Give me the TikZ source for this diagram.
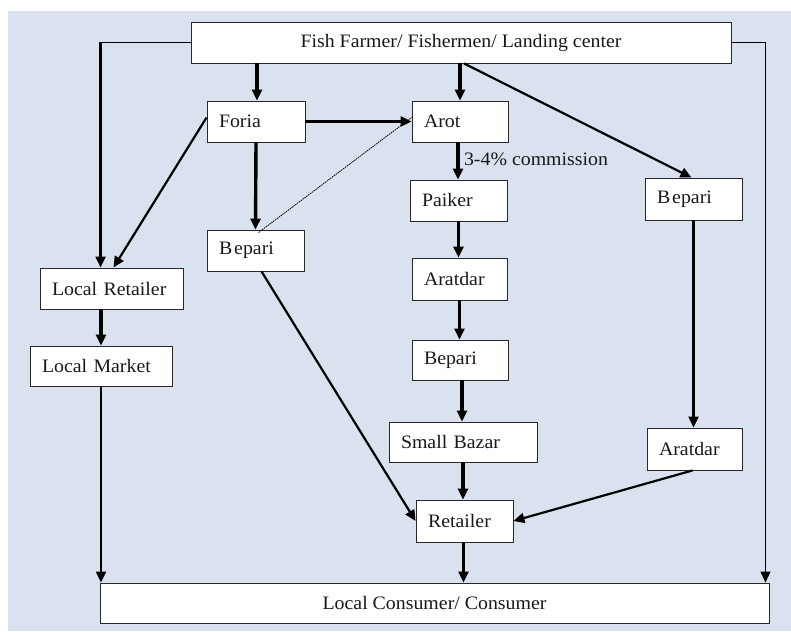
\documentclass[tikz,border=0pt]{standalone}
\usepackage{fontspec}
\setmainfont{Liberation Serif}[FakeStretch=1.045]
\usetikzlibrary{arrows.meta,calc}
\definecolor{bgblue}{RGB}{217,226,238}
\definecolor{boxline}{RGB}{40,40,40}
\tikzset{
  bx/.style={draw=boxline, fill=white, line width=0.9pt, minimum height=41pt,
    inner xsep=12pt, inner ysep=0pt, align=left, text width=#1},
  wide/.style={draw=boxline, fill=white, line width=0.9pt, minimum height=41pt,
    inner sep=0pt, align=center, minimum width=#1},
  tip/.style={-{Triangle[length=11pt,width=10pt]}},
  thickarr/.style={tip, line width=3.4pt},
  medarr/.style={tip, line width=2.2pt},
  thinln/.style={line width=1pt},
  every node/.style={font=\fontsize{19}{22}\selectfont, text=black!90}
}
\begin{document}
\begin{tikzpicture}[x=1pt,y=-1pt]
\useasboundingbox (0,0) rectangle (791,631);
\fill[white] (0,0) rectangle (791,631);
\fill[bgblue] (8,11) rectangle (791,631);

\node[wide=540] (top) at (461,42.5) {Fish Farmer/ Fishermen/ Landing center};
\node[bx=74] (foria) at (256,121.5) {Foria};
\node[bx=72] (arot) at (460,121.5) {Arot};
\node[bx=73] (paiker) at (458.5,200.5) {Paiker};
\node[bx=73, minimum height=42pt] (bepR) at (693.5,199) {B\kern2pt epari};
\node[bx=71, minimum height=42pt] (arat1) at (459.5,279) {Aratdar};
\node[bx=73] (bepL) at (255.5,250.5) {B\kern2pt epari};
\node[bx=119] (lr) at (111.5,288.5) {\mbox{Local Retailer}};
\node[bx=118, minimum height=40pt] (lm) at (101,366) {\mbox{Local Market}};
\node[bx=72, minimum height=40pt] (bepM) at (460,360) {Bepari};
\node[bx=124, minimum height=40pt] (sb) at (463,442) {\mbox{Small Bazar}};
\node[bx=71, minimum height=42pt] (arat2) at (694.5,449) {Aratdar};
\node[bx=73, minimum height=42pt] (ret) at (464.5,521) {Retailer};
\node[wide=669, minimum height=40pt] (cons) at (434.5,603) {Local Consumer/ Consumer};

% top box outgoing
\draw[thinln] (top.west) -- ++(-90,0) coordinate (tl);
\draw[medarr] (tl) -- (tl |- lr.north);
\draw[thickarr] ([xshift=1pt]top.south -| foria.north) -- ([xshift=1pt]foria.north);
\draw[thickarr] (top.south -| arot.north) -- (arot.north);
\draw[medarr] ([xshift=4pt]top.south -| arot.north) -- ([xshift=-2pt]bepR.north);
\draw[thinln, tip] (top.east) -| ([xshift=-4pt]cons.north east);

% Foria
\draw[thickarr] (foria.east) -- (arot.west);
\draw[medarr] ([yshift=4pt]foria.west) -- ([xshift=2pt]lr.north);
\draw[thickarr] (foria.south) -- (bepL.north);
\draw[line width=0.8pt, dash pattern=on 1.5pt off 0.8pt] ([xshift=3pt,yshift=-3pt]bepL.north) -- ([yshift=4pt]arot.west);

% central chain
\draw[thickarr] ([xshift=-2pt]arot.south) -- ([xshift=-2pt]arot.south |- paiker.north)
  node[pos=0.45, right=1pt] (comm) {3-4\% commission};
\draw[thickarr] (paiker.south) -- (paiker.south |- arat1.north);
\draw[thickarr] (arat1.south) -- (arat1.south |- bepM.north);
\draw[thickarr] ([xshift=2pt]bepM.south) -- ([xshift=2pt]bepM.south |- sb.north);
\draw[thickarr] (sb.south) -- (sb.south |- ret.north);
\draw[thickarr] ([xshift=-1pt]ret.south) -- ([xshift=-1pt]ret.south |- cons.north);

% right chain
\draw[medarr] (bepR.south) -- (bepR.south |- arat2.north);
\draw[medarr] ([xshift=-2pt]arat2.south) -- (ret.east);

% left Bepari to Retailer
\draw[medarr] ([xshift=6pt]bepL.south) -- (ret.west);

% left chain
\draw[thickarr] (lr.south -| lm.north) -- (lm.north);
\draw[medarr] (lm.south) -- (lm.south |- cons.north);
\end{tikzpicture}
\end{document}
